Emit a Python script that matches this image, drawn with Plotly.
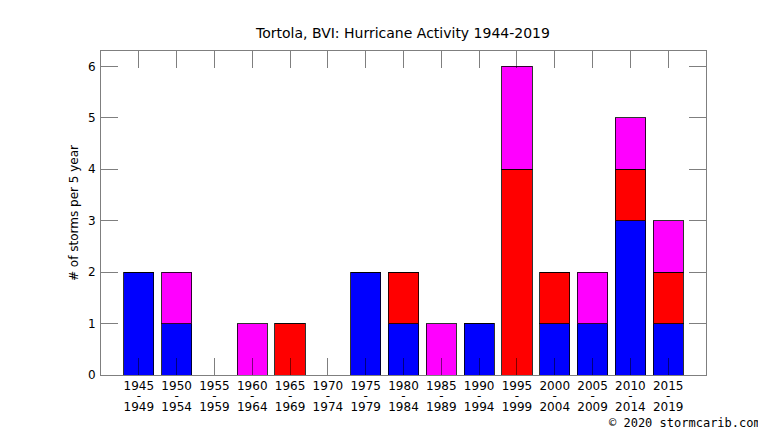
import plotly.graph_objects as go

# 5-year periods
start_years = [1945, 1950, 1955, 1960, 1965, 1970, 1975, 1980,
               1985, 1990, 1995, 2000, 2005, 2010, 2015]
end_years = [1949, 1954, 1959, 1964, 1969, 1974, 1979, 1984,
             1989, 1994, 1999, 2004, 2009, 2014, 2019]

# storms per period, stacked bottom -> top
blue_counts = [2, 1, 0, 0, 0, 0, 2, 1, 0, 1, 0, 1, 1, 3, 1]
red_counts = [0, 0, 0, 0, 1, 0, 0, 1, 0, 0, 4, 1, 0, 1, 1]
magenta_counts = [0, 1, 0, 1, 0, 0, 0, 0, 1, 0, 2, 0, 1, 1, 1]

x = list(range(len(start_years)))

fig = go.Figure()
for vals, color, name in [(blue_counts, "#0000ff", "blue"),
                          (red_counts, "#ff0000", "red"),
                          (magenta_counts, "#ff00ff", "magenta")]:
    fig.add_trace(go.Bar(x=x, y=vals, name=name, width=0.8,
                         marker=dict(color=color,
                                     line=dict(color="rgba(0,0,0,0.8)", width=1))))

# empty traces so the extra label rows (the "-" and the end years) get drawn
for ax in ["x2", "x3"]:
    fig.add_trace(go.Scatter(x=x, y=[None] * len(x), xaxis=ax, mode="markers",
                             showlegend=False, hoverinfo="skip"))

tick_font = dict(family="DejaVu Sans", size=12, color="black")
axis_style = dict(showline=True, linecolor="rgba(0,0,0,0.5)", linewidth=1,
                  mirror="ticks", ticks="inside", ticklen=17, tickwidth=1,
                  tickcolor="rgba(0,0,0,0.5)", showgrid=False, zeroline=False,
                  automargin=False, tickfont=tick_font)
label_row = dict(range=[-1, 15], tickvals=x, overlaying="x", anchor="y",
                 side="bottom", showline=False, ticks="", showgrid=False,
                 zeroline=False, automargin=False, tickfont=tick_font)

# the page body has an 8px margin, so the figure is shifted by 8px
fig.update_layout(
    barmode="stack",
    width=766, height=431,
    margin=dict(l=93, r=68, t=43, b=64),
    plot_bgcolor="white", paper_bgcolor="white",
    showlegend=False,
    bargap=0.2,
    title=dict(text="Tortola, BVI: Hurricane Activity 1944-2019",
               x=395 / 766, xanchor="center", y=1 - 25 / 431, yanchor="middle",
               font=dict(family="DejaVu Sans", size=14, color="black")),
    font=dict(family="DejaVu Sans", size=12, color="black"),
    xaxis=dict(range=[-1, 15], tickvals=x, ticktext=[str(s) for s in start_years],
               **axis_style),
    xaxis2=dict(ticktext=["-"] * len(x), ticklabelstandoff=12, **label_row),
    xaxis3=dict(ticktext=[str(e) for e in end_years], ticklabelstandoff=23, **label_row),
    yaxis=dict(range=[0, 6.3], dtick=1, ticklabelstandoff=2,
               title=dict(text="# of storms per 5 year", standoff=6,
                          font=dict(family="DejaVu Sans", size=12)),
               **axis_style),
)

fig.add_annotation(text="© 2020 stormcarib.com", xref="paper", yref="paper",
                   x=1 + 57 / 605, y=-48 / 324, xanchor="right", yanchor="middle",
                   showarrow=False,
                   font=dict(family="DejaVu Sans Mono", size=12, color="black"))

fig.write_html("out.html")
